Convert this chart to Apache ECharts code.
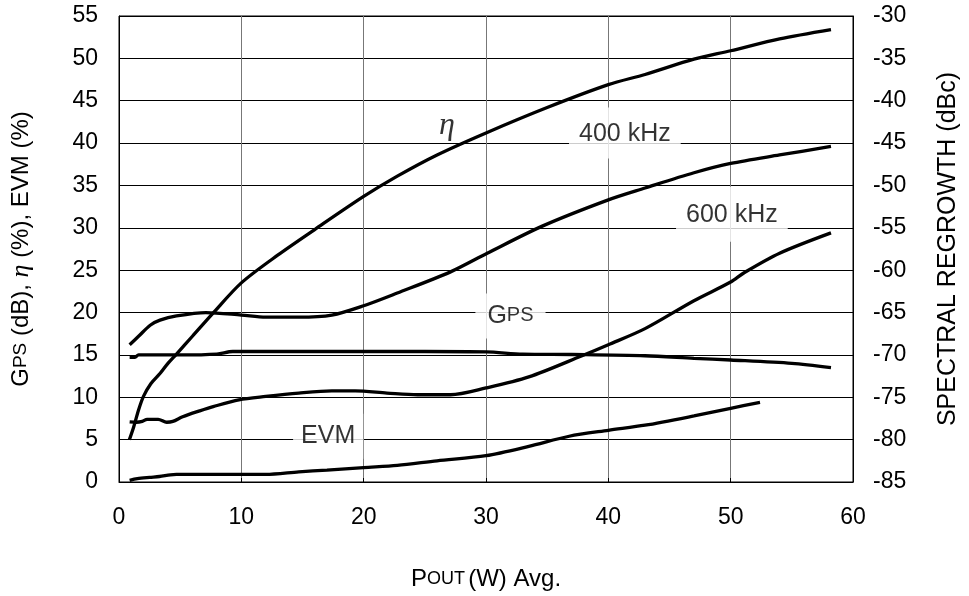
<!DOCTYPE html>
<html><head><meta charset="utf-8">
<script src="https://cdn.jsdelivr.net/npm/echarts@6/dist/echarts.min.js"></script>
<style>html,body{margin:0;padding:0;background:#fff}#c{width:969px;height:596px}</style>
</head><body><div id="c"></div>
<script>
// x: Pout (W) avg; left axis values for eta/Gps/EVM, right axis (dBc) for spectral regrowth
const etaData = [[0.85,5.0],[1.2,6.5],[1.6,8.5],[2.0,10.1],[2.6,11.6],[3.35,12.8],[4.0,14.0],[4.7,15.1],[6.0,17.2],[7.67,19.9],[10,23.5],[13,26.8],[16,29.8],[20,33.7],[22.75,36.1],[26,38.6],[30,41.2],[35,44.2],[40,46.9],[43,48.1],[47,49.9],[50,50.9],[54,52.3],[58.2,53.4]];
const gpsData = [[0.87,14.7],[1.3,14.7],[1.6,15.0],[5,15.0],[8,15.1],[9.3,15.4],[15,15.4],[20,15.4],[25,15.4],[30,15.35],[33,15.1],[37,15.05],[43,14.9],[47,14.6],[50,14.4],[55,14.0],[58.2,13.5]];
const evmData = [[0.87,0.2],[1.5,0.4],[2.5,0.55],[3.3,0.65],[4.2,0.85],[4.7,0.9],[8,0.9],[12,0.9],[14.7,1.2],[17,1.4],[20,1.7],[22.75,1.95],[26,2.5],[30,3.1],[33.5,4.2],[36.8,5.4],[40,6.1],[43,6.7],[47,7.8],[50,8.7],[52.4,9.4]];
const acpr400 = [[0.87,-68.8],[1.6,-67.8],[2.55,-66.5],[3.35,-65.9],[4.7,-65.4],[7.1,-65.0],[10,-65.3],[12,-65.55],[14.7,-65.55],[17.4,-65.3],[20,-64.2],[22.75,-62.7],[27.1,-60.2],[30.1,-58.0],[34.6,-54.8],[40,-51.7],[43,-50.3],[47,-48.5],[50,-47.4],[54,-46.4],[58.2,-45.4]];
const acpr600 = [[0.87,-77.9],[1.4,-77.95],[1.9,-77.85],[2.3,-77.6],[3.2,-77.6],[3.9,-77.95],[4.4,-77.85],[5.2,-77.3],[6.6,-76.6],[7.7,-76.1],[9.8,-75.3],[12,-74.9],[14.7,-74.5],[17.4,-74.25],[19.3,-74.25],[21.9,-74.5],[24.4,-74.7],[27.1,-74.7],[30,-73.9],[33.5,-72.6],[37.85,-70.1],[40,-68.8],[43,-66.9],[47,-63.6],[50,-61.4],[51.1,-60.3],[54,-58.0],[58.2,-55.6]];
const annotations = [
  {x:41.35, y:41.2, text:'400 kHz', pad:[14,10,12,10]},
  {x:50.1, y:31.6, text:'600 kHz', pad:[16,10,14,10]},
  {x:32.0, y:19.6, text:'{a|G}{b|PS}', pad:[10,12,10,12]},
  {x:17.1, y:5.4, text:'EVM', pad:[10,8,10,8]},
  {x:26.8, y:42.1, text:'{eta|η}', pad:[0,0,0,0]}
];

const FONT = 'Liberation Sans, Arial, sans-serif';
const chart = echarts.init(document.getElementById('c'));
const lineStyle = {color:'#000', width:3.3};
function lineSeries(name, data, yIdx){
  return {name, type:'line', data, yAxisIndex:yIdx, smooth:0.3, showSymbol:false, symbol:'none',
    lineStyle, itemStyle:{color:'#000'}, z:5, animation:false};
}
chart.setOption({
  animation:false,
  backgroundColor:'#fff',
  grid:{left:118.5, right:108, top:16, bottom:114, show:true, borderColor:'#000', borderWidth:1},
  xAxis:{type:'value', min:0, max:60, interval:10,
    axisLine:{lineStyle:{color:'#000'}}, axisTick:{inside:true, length:4, lineStyle:{color:'#000'}},
    axisLabel:{color:'#000', fontSize:23, fontFamily:FONT, margin:24},
    splitLine:{show:true, lineStyle:{color:'#777', width:1}},
    name:'{a|P}{b|OUT} {a|(W) Avg.}', nameLocation:'middle', nameGap:85,
    nameTextStyle:{rich:{a:{fontSize:24, fontFamily:FONT, color:'#000'}, b:{fontSize:18, fontFamily:FONT, color:'#000'}}}
  },
  yAxis:[
    {type:'value', min:0, max:55, interval:5, position:'left',
     axisLine:{show:true, lineStyle:{color:'#000'}}, axisTick:{show:true, inside:true, length:4, lineStyle:{color:'#000'}},
     axisLabel:{color:'#000', fontSize:23, fontFamily:FONT, margin:21},
     splitLine:{show:true, lineStyle:{color:'#000', width:1}},
     name:'{a|G}{b|PS}{a| (dB), }{eta|η}{a| (%), EVM (%)}', nameLocation:'middle', nameGap:85, nameRotate:90,
     nameTextStyle:{rich:{a:{fontSize:24, fontFamily:FONT, color:'#000'}, b:{fontSize:19, fontFamily:FONT, color:'#000'}, eta:{fontSize:26, fontFamily:'Liberation Serif, serif', fontStyle:'italic', color:'#000'}}}
    },
    {type:'value', min:-85, max:-30, interval:5, position:'right',
     axisLine:{show:true, lineStyle:{color:'#000'}}, axisTick:{show:true, inside:true, length:4, lineStyle:{color:'#000'}},
     axisLabel:{color:'#000', fontSize:23, fontFamily:FONT, margin:20},
     splitLine:{show:false},
     name:'SPECTRAL REGROWTH (dBc)', nameLocation:'middle', nameGap:83, nameRotate:90,
     nameTextStyle:{color:'#000', fontSize:25, fontFamily:FONT}
    }
  ],
  series:[
    lineSeries('eta', etaData, 0),
    lineSeries('Gps', gpsData, 0),
    lineSeries('EVM', evmData, 0),
    lineSeries('400 kHz', acpr400, 1),
    lineSeries('600 kHz', acpr600, 1),
    {type:'scatter', yAxisIndex:0, symbolSize:0, z:4, silent:true, animation:false,
     data: annotations.map(a => ({value:[a.x, a.y],
       label:{show:true, position:'inside', formatter:a.text, backgroundColor:a.text.indexOf('eta')>=0?'transparent':'#fff', padding:a.pad,
         color:'#000', fontSize:25, fontFamily:FONT,
         rich:{a:{fontSize:25, fontFamily:FONT, color:'#000'}, b:{fontSize:20, fontFamily:FONT, color:'#000'}, eta:{fontSize:32, fontFamily:'Liberation Serif, serif', fontStyle:'italic', color:'#000'}}}}))
    }
  ]
});
</script></body></html>
